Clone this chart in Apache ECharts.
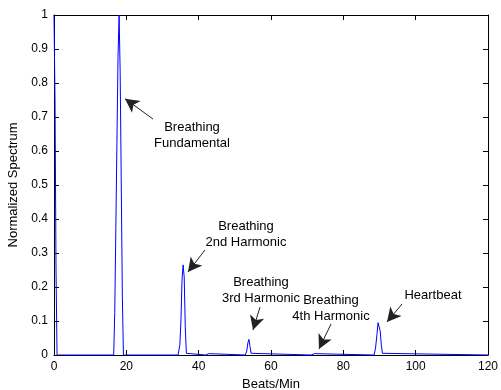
<!DOCTYPE html>
<html>
<head>
<meta charset="utf-8">
<script src="https://cdn.jsdelivr.net/npm/echarts@6/dist/echarts.min.js"></script>
<style>
html,body{margin:0;padding:0;background:#fff;}
#chart{width:501px;height:390px;}
</style>
</head>
<body>
<div id="chart"></div>
<script>
// Spectrum samples (Beats/Min, normalized magnitude)
var specX = [0, 0.28, 0.56, 0.84,
  16.5, 16.8, 17.1, 17.4, 17.7, 18.0, 18.3, 18.6, 18.9, 19.2, 19.5, 19.8,
  34.3, 34.8, 35.1, 35.4, 35.7, 36.0, 36.3, 36.6, 36.9,
  41.9, 42.3, 42.8, 43.3,
  52.9, 53.3, 53.6, 53.9, 54.2, 54.5, 54.8,
  71.1, 71.5, 72.0, 72.5,
  88.5, 88.9, 89.3, 89.6, 89.9, 90.2, 90.5, 90.8, 91.1,
  120];
var specY = [1, 0.75, 0.25, 0,
  0, 0.125, 0.375, 0.625, 0.875, 1, 0.83, 0.5, 0.17, 0, 0.003, 0,
  0, 0.03, 0.1, 0.22, 0.265, 0.23, 0.08, 0.005, 0,
  0, 0.004, 0.004, 0,
  0, 0.012, 0.035, 0.046, 0.025, 0.005, 0,
  0, 0.004, 0.004, 0,
  0, 0.02, 0.06, 0.095, 0.1, 0.07, 0.03, 0.005, 0,
  0];

var xTicks = [0, 20, 40, 60, 80, 100, 120];
var yTicks = [0, 0.1, 0.2, 0.3, 0.4, 0.5, 0.6, 0.7, 0.8, 0.9, 1];

// Annotations: label text, label centre, arrow tail, arrow tip (data coords)
var annText = ['Breathing\nFundamental', 'Breathing\n2nd Harmonic', 'Breathing\n3rd Harmonic', 'Breathing\n4th Harmonic', 'Heartbeat'];
var annLabelX = [38.16, 53.09, 57.23, 76.59, 104.79];
var annLabelY = [0.647, 0.356, 0.191, 0.137, 0.176];
var annTailX = [27.37, 41.75, 56.96, 76.59, 96.22];
var annTailY = [0.694, 0.309, 0.141, 0.091, 0.150];
var annTipX = [19.63, 37.05, 55.02, 73.27, 92.07];
var annTipY = [0.754, 0.244, 0.0735, 0.018, 0.097];

var FONT = "'Liberation Sans', Arial, Helvetica, sans-serif";

var data = specX.map(function (x, i) { return [x, specY[i]]; });

var arrows = annText.map(function (t, i) {
  return [{ coord: [annTailX[i], annTailY[i]] }, { coord: [annTipX[i], annTipY[i]] }];
});
var labels = annText.map(function (t, i) {
  return { coord: [annLabelX[i], annLabelY[i]], value: t };
});

function axisCommon(showLabel, isX) {
  return {
    type: 'value',
    min: isX ? xTicks[0] : yTicks[0],
    max: isX ? xTicks[xTicks.length - 1] : yTicks[yTicks.length - 1],
    interval: isX ? 20 : 0.1,
    axisLine: { show: true, onZero: false, lineStyle: { color: '#000', width: 1 } },
    axisTick: { show: true, inside: true, length: 5, lineStyle: { color: '#000', width: 1 } },
    splitLine: { show: false },
    axisLabel: { show: showLabel, color: '#000', fontSize: 12, fontFamily: FONT, margin: 6 }
  };
}

var chart = echarts.init(document.getElementById('chart'), null, { renderer: 'canvas' });
var xBottom = axisCommon(true, true);
xBottom.position = 'bottom';
xBottom.name = 'Beats/Min';
xBottom.nameLocation = 'middle';
xBottom.nameGap = 20;
xBottom.nameTextStyle = { color: '#000', fontSize: 13, fontFamily: FONT, verticalAlign: 'top' };
var xTop = axisCommon(false, true);
xTop.position = 'top';
var yLeft = axisCommon(true, false);
yLeft.position = 'left';
yLeft.name = 'Normalized Spectrum';
yLeft.nameLocation = 'middle';
yLeft.nameGap = 28;
yLeft.nameTextStyle = { color: '#000', fontSize: 13, fontFamily: FONT };
var yRight = axisCommon(false, false);
yRight.position = 'right';

chart.setOption({
  animation: false,
  backgroundColor: '#fff',
  grid: { left: 54, right: 13, top: 15, bottom: 35, containLabel: false, outerBoundsMode: 'none' },
  xAxis: [xBottom, xTop],
  yAxis: [yLeft, yRight],
  series: [{
    type: 'line',
    xAxisIndex: 0,
    yAxisIndex: 0,
    data: data,
    showSymbol: false,
    symbol: 'none',
    lineStyle: { color: '#0000ff', width: 1 },
    clip: false,
    silent: true,
    markLine: {
      silent: true,
      symbol: ['none', 'arrow'],
      symbolSize: [11, 14],
      label: { show: false },
      lineStyle: { color: '#222', width: 1, type: 'solid' },
      data: arrows
    },
    markPoint: {
      silent: true,
      symbol: 'circle',
      symbolSize: 0,
      label: {
        show: true,
        position: 'inside',
        color: '#000',
        fontSize: 13,
        fontFamily: FONT,
        lineHeight: 16,
        align: 'center',
        formatter: function (p) { return p.value; }
      },
      data: labels
    }
  }]
});
</script>
</body>
</html>
